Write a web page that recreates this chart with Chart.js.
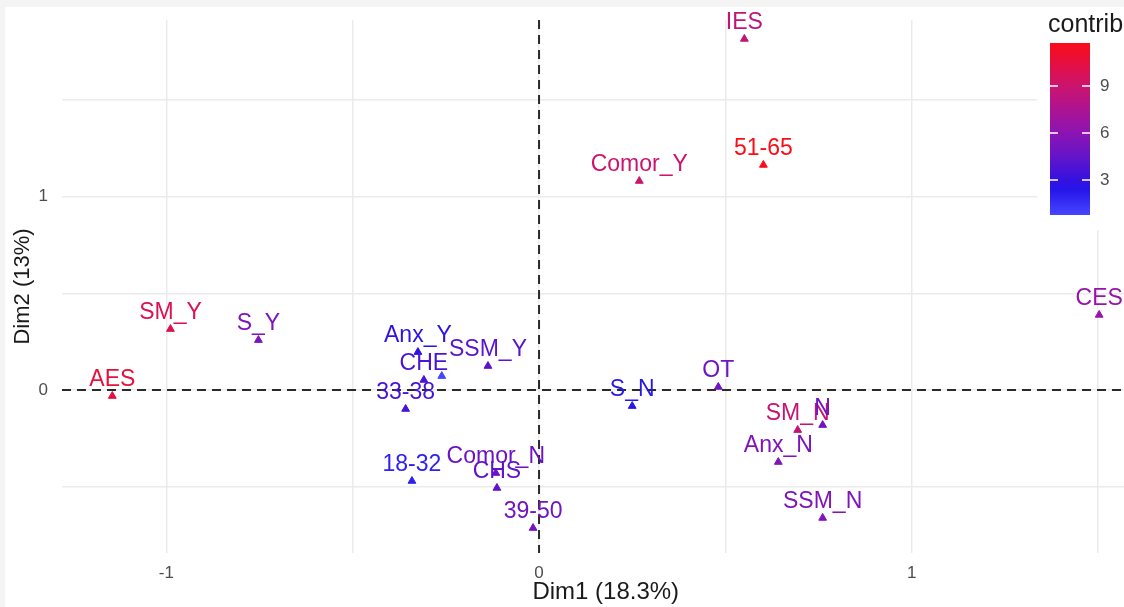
<!DOCTYPE html>
<html>
<head>
<meta charset="utf-8">
<title>Variable categories - MCA (Dim1 / Dim2)</title>
<script src="https://cdn.jsdelivr.net/npm/chart.js"></script>
<style>
  html, body { margin: 0; padding: 0; background: #f4f4f4; overflow: hidden; }
  #wrap { position: absolute; left: 5px; top: 7px; width: 1150px; height: 600px; background: #fff; }
</style>
</head>
<body>
<div id="wrap"><canvas id="chart" width="1150" height="600"></canvas></div>
<script>
// category coordinates on the first two dimensions
const categories = ['IES', '51-65', 'Comor_Y', 'CES', 'SM_Y', 'S_Y', 'AES', 'Anx_Y', 'CHE', '',
  'SSM_Y', '33-38', 'S_N', 'OT', 'SM_N', 'N', 'Anx_N', 'SSM_N', '18-32', 'Comor_N', 'CHS', '39-50'];
const dim1 = [0.551, 0.602, 0.269, 1.503, -0.989, -0.753, -1.145, -0.325, -0.309, -0.261,
  -0.137, -0.358, 0.250, 0.481, 0.694, 0.761, 0.642, 0.761, -0.341, -0.116, -0.113, -0.016];
const dim2 = [1.814, 1.163, 1.080, 0.388, 0.315, 0.258, -0.031, 0.196, 0.052, 0.072,
  0.124, -0.098, -0.083, 0.016, -0.207, -0.181, -0.372, -0.661, -0.470, -0.429, -0.506, -0.713];
const contrib = [8.5, 11.74, 9.0, 6.5, 10.0, 5.5, 10.6, 2.8, 3.7, 0.77,
  4.2, 3.6, 2.3, 5.0, 8.6, 5.0, 5.5, 5.5, 2.0, 4.8, 4.3, 5.0];

const xTicks = [-1, -0.5, 0, 0.5, 1, 1.5];
const yTicks = [-0.5, 0, 0.5, 1, 1.5];
const legendTicks = [3, 6, 9];

// colour gradient for contrib (blue -> purple -> red)
const gradStops = [[0.77, [70, 70, 255]], [2.5, [36, 18, 232]], [4.5, [100, 20, 200]],
  [6, [140, 20, 180]], [9, [204, 20, 110]], [11.74, [250, 12, 24]]];
function colorFor(v) {
  if (v <= gradStops[0][0]) return 'rgb(' + gradStops[0][1].join(',') + ')';
  for (let i = 1; i < gradStops.length; i++) {
    const [v1, c1] = gradStops[i];
    const [v0, c0] = gradStops[i - 1];
    if (v <= v1) {
      const t = (v - v0) / (v1 - v0);
      const c = c0.map((a, k) => Math.round(a + (c1[k] - a) * t));
      return 'rgb(' + c.join(',') + ')';
    }
  }
  return 'rgb(' + gradStops[gradStops.length - 1][1].join(',') + ')';
}
const colors = contrib.map(colorFor);
const cMin = Math.min(...contrib);
const cMax = Math.max(...contrib);

Chart.defaults.font.family = "'Liberation Sans', Arial, sans-serif";

const zeroLines = {
  id: 'zeroLines',
  beforeDatasetsDraw(chart) {
    const { ctx, chartArea: a, scales: { x, y } } = chart;
    const px = x.getPixelForValue(0);
    const py = y.getPixelForValue(0);
    ctx.save();
    ctx.strokeStyle = '#2a2a2a';
    ctx.lineWidth = 2;
    ctx.setLineDash([9, 6]);
    ctx.beginPath();
    ctx.moveTo(a.left, py); ctx.lineTo(a.right, py);
    ctx.moveTo(px, a.top); ctx.lineTo(px, a.bottom);
    ctx.stroke();
    ctx.restore();
  }
};

const pointLabels = {
  id: 'pointLabels',
  afterDatasetsDraw(chart) {
    const { ctx } = chart;
    const meta = chart.getDatasetMeta(0);
    ctx.save();
    ctx.font = "23px 'Liberation Sans', Arial, sans-serif";
    ctx.textAlign = 'center';
    ctx.textBaseline = 'alphabetic';
    meta.data.forEach((el, i) => {
      if (!categories[i]) return;
      ctx.fillStyle = colors[i];
      ctx.fillText(categories[i], el.x, el.y - 10);
    });
    ctx.restore();
  }
};

const contribLegend = {
  id: 'contribLegend',
  afterDraw(chart) {
    const { ctx } = chart;
    const bx = 1045, bw = 40, top = 36, bottom = 208;
    ctx.save();
    ctx.fillStyle = '#fff';
    ctx.fillRect(1032, 0, 118, 223);
    ctx.fillStyle = '#1a1a1a';
    ctx.font = "25px 'Liberation Sans', Arial, sans-serif";
    ctx.textAlign = 'left';
    ctx.textBaseline = 'middle';
    ctx.fillText('contrib', 1043, 18);
    const g = ctx.createLinearGradient(0, bottom, 0, top);
    for (let k = 0; k <= 20; k++) {
      const v = cMin + (cMax - cMin) * k / 20;
      g.addColorStop(k / 20, colorFor(v));
    }
    ctx.fillStyle = g;
    ctx.fillRect(bx, top, bw, bottom - top);
    ctx.strokeStyle = '#fff';
    ctx.lineWidth = 1.5;
    ctx.font = "17px 'Liberation Sans', Arial, sans-serif";
    ctx.fillStyle = '#4d4d4d';
    legendTicks.forEach(v => {
      const ty = bottom - (v - cMin) / (cMax - cMin) * (bottom - top);
      ctx.beginPath();
      ctx.moveTo(bx, ty); ctx.lineTo(bx + 8, ty);
      ctx.moveTo(bx + bw - 8, ty); ctx.lineTo(bx + bw, ty);
      ctx.stroke();
      ctx.fillText(String(v), bx + bw + 10, ty);
    });
    ctx.restore();
  }
};

new Chart(document.getElementById('chart'), {
  type: 'scatter',
  data: {
    labels: categories,
    datasets: [{
      data: dim1.map((v, i) => ({ x: v, y: dim2[i] })),
      pointStyle: 'triangle',
      pointRadius: 4.5,
      backgroundColor: colors,
      borderColor: colors,
      borderWidth: 1
    }]
  },
  options: {
    responsive: false,
    animation: false,
    layout: { padding: { top: 13, left: 0, right: 0, bottom: 0 } },
    plugins: { legend: { display: false }, tooltip: { enabled: false } },
    scales: {
      x: {
        type: 'linear',
        min: -1.280,
        max: 1.638,
        afterBuildTicks: s => { s.ticks = xTicks.map(v => ({ value: v })); },
        afterFit: s => { s.height = 54; s.paddingLeft = 0; s.paddingRight = 0; },
        grid: { color: '#ebebeb', lineWidth: 1.5, drawTicks: false },
        border: { display: false },
        ticks: {
          callback: v => Number.isInteger(v) ? String(v) : '',
          color: '#4d4d4d', font: { size: 17 }, padding: 10, maxRotation: 0, autoSkip: false
        },
        title: {
          display: true, text: 'Dim1 (18.3%)', color: '#1a1a1a',
          font: { size: 24, lineHeight: 1 }, padding: { top: 0, bottom: 3 }
        }
      },
      y: {
        type: 'linear',
        min: -0.842,
        max: 1.912,
        afterBuildTicks: s => { s.ticks = yTicks.map(v => ({ value: v })); },
        afterFit: s => { s.width = 57; s.paddingTop = 0; s.paddingBottom = 0; },
        grid: { color: '#ebebeb', lineWidth: 1.5, drawTicks: false },
        border: { display: false },
        ticks: {
          callback: v => Number.isInteger(v) ? String(v) : '',
          color: '#4d4d4d', font: { size: 17 }, padding: 14, autoSkip: false
        },
        title: {
          display: true, text: 'Dim2 (13%)', color: '#1a1a1a',
          font: { size: 22, lineHeight: 1 }, padding: { top: 7, bottom: 0 }
        }
      }
    }
  },
  plugins: [zeroLines, pointLabels, contribLegend]
});
</script>
</body>
</html>
